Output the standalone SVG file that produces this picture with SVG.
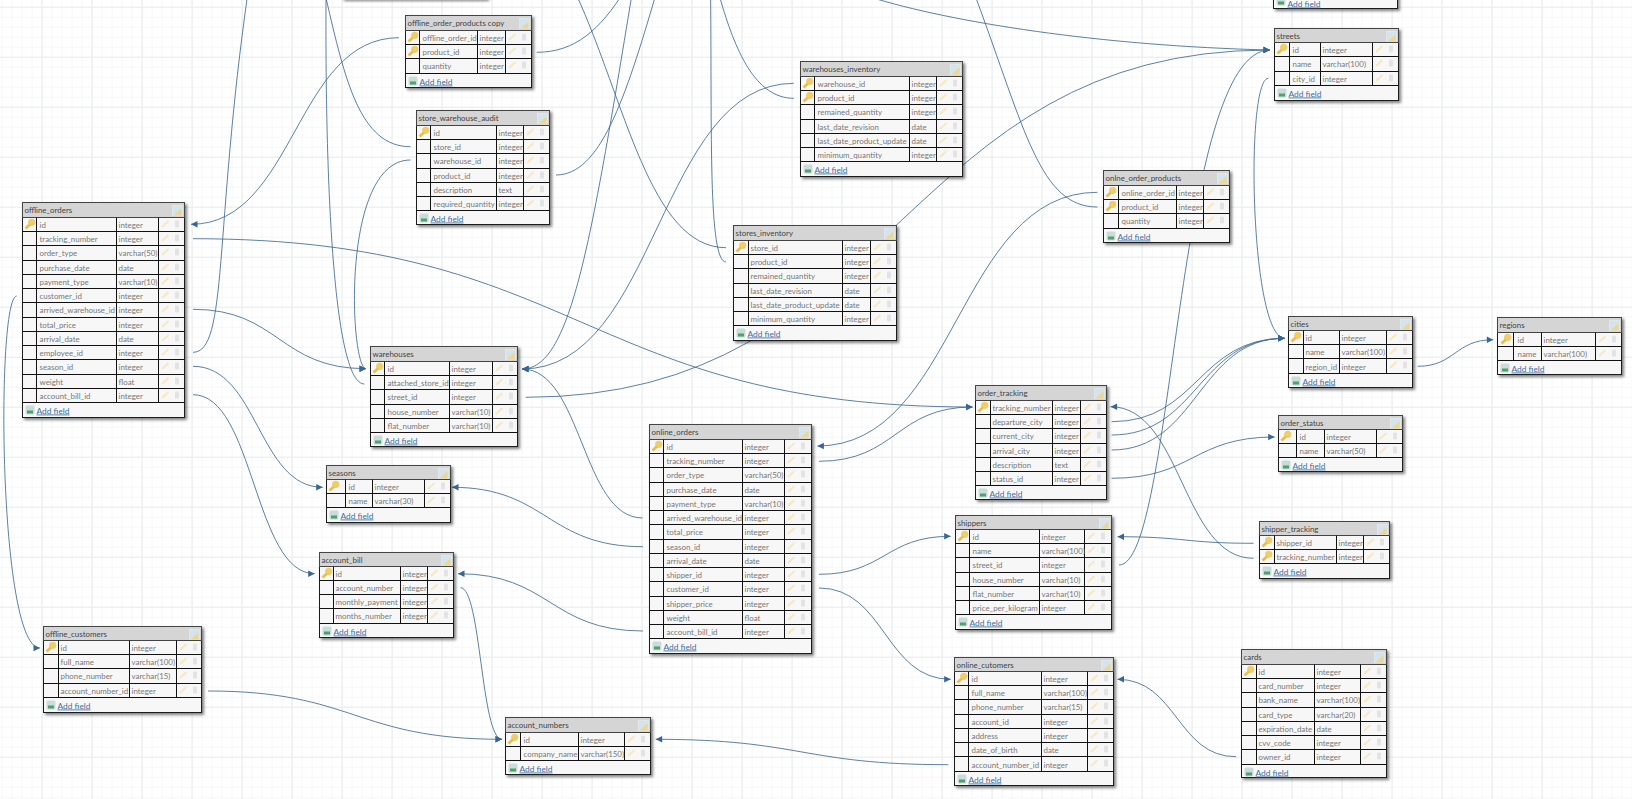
<svg xmlns="http://www.w3.org/2000/svg" width="1632" height="799" viewBox="0 0 1632 799">
<style>
text{font-family:Lato,"Noto Sans","Liberation Sans",sans-serif;font-size:7.9px}
.b{fill:#f7f7f7;stroke:#1a1a1a;stroke-width:1;filter:url(#s)}
.hd{fill:#d5d5d5;stroke:#444;stroke-width:1}
.l{fill:none;stroke:#111;stroke-width:1}
.ti{fill:#444}
.n,.t{fill:#777}
.a{fill:#3f6d9f;text-decoration:underline;font-size:8.4px}
.c{fill:none;stroke:#3f6a92;stroke-width:.85}
.c.e{marker-end:url(#ar)}
</style>
<defs>
<pattern id="g1" width="10" height="10" patternUnits="userSpaceOnUse" x="1.6" y="6.7"><path d="M0 .5H10M.5 0V10" fill="none" stroke="#f6f7f7" stroke-width="1"/></pattern>
<pattern id="g2" width="50" height="50" patternUnits="userSpaceOnUse" x="41.6" y="6.7"><path d="M0 .5H50M.5 0V50" fill="none" stroke="#eaeced" stroke-width="1"/></pattern>
<filter id="s" x="-10%" y="-10%" width="125%" height="125%"><feDropShadow dx="2" dy="2" stdDeviation="1.8" flood-color="#000" flood-opacity=".5"/></filter>
<marker id="ar" markerUnits="userSpaceOnUse" markerWidth="8" markerHeight="8" refX="7" refY="4" orient="auto"><path d="M0.5 .8L7 4L.5 7.2z" fill="#376596"/></marker>
<g id="k"><circle cx="9.2" cy="4.8" r="3.6" fill="#f0cd68"/><path d="M7.4 7L3 11" stroke="#e8bf4e" stroke-width="2.8" fill="none"/></g>
<g id="i"><path d="M3.5 9.5L10 3.5" stroke="#f7e8bd" stroke-width="2" fill="none"/><rect x="16.5" y="3" width="4" height="7" rx="1.2" fill="#e3e3e3"/></g>
<g id="h"><rect width="10" height="10" fill="#d5e3ec" stroke="#e8eef2" stroke-width=".6"/><path d="M1 10L9 3V10z" fill="#eed68e"/></g>
<g id="p"><rect width="9" height="9" rx="1.5" fill="#c9dcdb"/><rect x="1.5" y="5" width="6" height="3" fill="#4ea26b"/></g>
</defs>
<rect width="1632" height="799" fill="#fff"/>
<rect width="1632" height="799" fill="url(#g1)"/>
<rect width="1632" height="799" fill="url(#g2)"/>

<g id="connectors">
<path class="c e" d="M399 37.7C295 37.7 295 224.3 191 224.3"/>
<path class="c e" d="M193 238.7C583 238.7 583 407 972.5 407"/>
<path class="c e" d="M16.7 296C-4 296-2 648 40 648"/>
<path class="c e" d="M193 309.3C279 309.3 279 368.7 366 368.7"/>
<path class="c" d="M193 352.3C228 352.3 214 230 248 -8"/>
<path class="c e" d="M193 366.3C258 366.3 258 487.3 322.7 487.3"/>
<path class="c e" d="M193 394.7C254 394.7 254 573.7 314.7 573.7"/>
<path class="c e" d="M642.5 518C582 518 582 369 522 369"/>
<path class="c e" d="M793.8 83.3C658 83.3 658 369 522 369"/>
<path class="c e" d="M632 -6C590 250 570 369 522 369"/>
<path class="c" d="M556 175C600 175 625 100 656 -6"/>
<path class="c" d="M576 -6C625 100 650 247.7 726 247.7"/>
<path class="c" d="M536.7 52.3C575 52.3 600 30 625 -10"/>
<path class="c" d="M410.5 146.7C360 146.7 345 80 326 -2"/>
<path class="c" d="M364.4 384C335 384 325 200 326 -2"/>
<path class="c e" d="M410.5 160C340 160 350 368.7 366 368.7"/>
<path class="c e" d="M525.7 397.3C898 397.3 898 50 1270 50"/>
<path class="c e" d="M870 -3C950 22 1100 46 1270 50"/>
<path class="c e" d="M1119 565C1175 565 1175 50 1270 50"/>
<path class="c e" d="M1268.4 78.3C1245 78.3 1250 338.3 1284.7 338.3"/>
<path class="c e" d="M1111.6 421.7C1198 421.7 1198 338.3 1284.7 338.3"/>
<path class="c e" d="M1111.6 435C1198 435 1198 338.3 1284.7 338.3"/>
<path class="c e" d="M1111.6 450C1198 450 1198 338.3 1284.7 338.3"/>
<path class="c e" d="M1111.6 478.3C1193 478.3 1193 437 1274.7 437"/>
<path class="c e" d="M1417.7 366.3C1455 366.3 1455 339.7 1493.3 339.7"/>
<path class="c e" d="M1253.5 558.3C1182 558.3 1182 406.7 1110.6 406.7"/>
<path class="c e" d="M1253.5 543.3C1185 543.3 1185 536.7 1117.5 536.7"/>
<path class="c e" d="M1097.4 192.3C957 192.3 957 446 817.4 446"/>
<path class="c e" d="M819 461.3C896 461.3 896 407 972.5 407"/>
<path class="c" d="M1097.4 207C1040 207 1025 130 976 -2"/>
<path class="c" d="M793.8 98.3C755 98.3 735 50 720 -2"/>
<path class="c" d="M726 262C708 262 712 130 710.6 -2"/>
<path class="c e" d="M642.9 546.7C547 546.7 547 487.3 452 487.3"/>
<path class="c e" d="M642.9 631C550 631 550 573.7 458 573.7"/>
<path class="c e" d="M460.5 587.7C481 587.7 481 739.3 502 739.3"/>
<path class="c e" d="M208 691C355 691 355 739.3 502 739.3"/>
<path class="c e" d="M948.3 764.7C802 764.7 802 739.3 655.7 739.3"/>
<path class="c e" d="M819 574.3C885 574.3 885 536.3 950.7 536.3"/>
<path class="c e" d="M819 588C885 588 885 679.3 950.7 679.3"/>
<path class="c e" d="M1236 756.7C1177 756.7 1177 679.3 1117.5 679.3"/>
</g>

<g id="top_table_a" transform="translate(342.5 -30.5)"><rect class="b" width="144" height="29"/></g>
<g id="top_table_b" transform="translate(1273.5 -40.5)"><rect class="b" width="124" height="49"/><use href="#p" x="3" y="37"/><text class="a" x="14" y="47">Add field</text></g>

<g id="offline_orders" transform="translate(22.5 202.5)"><rect class="b" width="162" height="215"/><rect class="hd" width="162" height="15"/><text class="ti" x="2" y="10.5">offline_orders</text><use href="#h" x="150" y="3"/>
<path class="l" d="M0 29H162M0 43H162M0 58H162M0 72H162M0 86H162M0 100H162M0 115H162M0 129H162M0 143H162M0 157H162M0 172H162M0 186H162M0 200H162M14 15V200M94 15V200M136 15V200"/><use href="#k" x="0" y="15"/>
<text class="n" x="17" y="25">id</text><text class="t" x="96" y="25">integer</text><use href="#i" x="136" y="15"/>
<text class="n" x="17" y="39">tracking_number</text><text class="t" x="96" y="39">integer</text><use href="#i" x="136" y="29"/>
<text class="n" x="17" y="53">order_type</text><text class="t" x="96" y="53">varchar(50)</text><use href="#i" x="136" y="43"/>
<text class="n" x="17" y="68">purchase_date</text><text class="t" x="96" y="68">date</text><use href="#i" x="136" y="58"/>
<text class="n" x="17" y="82">payment_type</text><text class="t" x="96" y="82">varchar(10)</text><use href="#i" x="136" y="72"/>
<text class="n" x="17" y="96">customer_id</text><text class="t" x="96" y="96">integer</text><use href="#i" x="136" y="86"/>
<text class="n" x="17" y="110">arrived_warehouse_id</text><text class="t" x="96" y="110">integer</text><use href="#i" x="136" y="100"/>
<text class="n" x="17" y="125">total_price</text><text class="t" x="96" y="125">integer</text><use href="#i" x="136" y="115"/>
<text class="n" x="17" y="139">arrival_date</text><text class="t" x="96" y="139">date</text><use href="#i" x="136" y="129"/>
<text class="n" x="17" y="153">employee_id</text><text class="t" x="96" y="153">integer</text><use href="#i" x="136" y="143"/>
<text class="n" x="17" y="167">season_id</text><text class="t" x="96" y="167">integer</text><use href="#i" x="136" y="157"/>
<text class="n" x="17" y="182">weight</text><text class="t" x="96" y="182">float</text><use href="#i" x="136" y="172"/>
<text class="n" x="17" y="196">account_bill_id</text><text class="t" x="96" y="196">integer</text><use href="#i" x="136" y="186"/>
<use href="#p" x="3" y="203"/><text class="a" x="14" y="211">Add field</text></g>

<g id="offline_order_products_copy" transform="translate(405.5 15.5)"><rect class="b" width="126" height="72"/><rect class="hd" width="126" height="15"/><text class="ti" x="2" y="10.5">offline_order_products copy</text><use href="#h" x="114" y="3"/>
<path class="l" d="M0 29H126M0 43H126M0 58H126M14 15V58M72 15V58M100 15V58"/><use href="#k" x="0" y="15"/><use href="#k" x="0" y="29"/>
<text class="n" x="17" y="25">offline_order_id</text><text class="t" x="74" y="25">integer</text><use href="#i" x="100" y="15"/>
<text class="n" x="17" y="39">product_id</text><text class="t" x="74" y="39">integer</text><use href="#i" x="100" y="29"/>
<text class="n" x="17" y="53">quantity</text><text class="t" x="74" y="53">integer</text><use href="#i" x="100" y="43"/>
<use href="#p" x="3" y="61"/><text class="a" x="14" y="69">Add field</text></g>

<g id="store_warehouse_audit" transform="translate(416.5 110.5)"><rect class="b" width="133" height="114"/><rect class="hd" width="133" height="15"/><text class="ti" x="2" y="10.5">store_warehouse_audit</text><use href="#h" x="121" y="3"/>
<path class="l" d="M0 29H133M0 43H133M0 58H133M0 72H133M0 86H133M0 100H133M14 15V100M80 15V100M107 15V100"/><use href="#k" x="0" y="15"/>
<text class="n" x="17" y="25">id</text><text class="t" x="82" y="25">integer</text><use href="#i" x="107" y="15"/>
<text class="n" x="17" y="39">store_id</text><text class="t" x="82" y="39">integer</text><use href="#i" x="107" y="29"/>
<text class="n" x="17" y="53">warehouse_id</text><text class="t" x="82" y="53">integer</text><use href="#i" x="107" y="43"/>
<text class="n" x="17" y="68">product_id</text><text class="t" x="82" y="68">integer</text><use href="#i" x="107" y="58"/>
<text class="n" x="17" y="82">description</text><text class="t" x="82" y="82">text</text><use href="#i" x="107" y="72"/>
<text class="n" x="17" y="96">required_quantity</text><text class="t" x="82" y="96">integer</text><use href="#i" x="107" y="86"/>
<use href="#p" x="3" y="103"/><text class="a" x="14" y="111">Add field</text></g>

<g id="warehouses_inventory" transform="translate(800.5 61.5)"><rect class="b" width="162" height="115"/><rect class="hd" width="162" height="15"/><text class="ti" x="2" y="10.5">warehouses_inventory</text><use href="#h" x="150" y="3"/>
<path class="l" d="M0 29H162M0 43H162M0 58H162M0 72H162M0 86H162M0 100H162M14 15V100M109 15V100M136 15V100"/><use href="#k" x="0" y="15"/><use href="#k" x="0" y="29"/>
<text class="n" x="17" y="25">warehouse_id</text><text class="t" x="111" y="25">integer</text><use href="#i" x="136" y="15"/>
<text class="n" x="17" y="39">product_id</text><text class="t" x="111" y="39">integer</text><use href="#i" x="136" y="29"/>
<text class="n" x="17" y="53">remained_quantity</text><text class="t" x="111" y="53">integer</text><use href="#i" x="136" y="43"/>
<text class="n" x="17" y="68">last_date_revision</text><text class="t" x="111" y="68">date</text><use href="#i" x="136" y="58"/>
<text class="n" x="17" y="82">last_date_product_update</text><text class="t" x="111" y="82">date</text><use href="#i" x="136" y="72"/>
<text class="n" x="17" y="96">minimum_quantity</text><text class="t" x="111" y="96">integer</text><use href="#i" x="136" y="86"/>
<use href="#p" x="3" y="103"/><text class="a" x="14" y="111">Add field</text></g>

<g id="stores_inventory" transform="translate(733.5 225.5)"><rect class="b" width="163" height="115"/><rect class="hd" width="163" height="15"/><text class="ti" x="2" y="10.5">stores_inventory</text><use href="#h" x="151" y="3"/>
<path class="l" d="M0 29H163M0 43H163M0 58H163M0 72H163M0 86H163M0 100H163M15 15V100M109 15V100M137 15V100"/><use href="#k" x="0" y="15"/>
<text class="n" x="17" y="25">store_id</text><text class="t" x="111" y="25">integer</text><use href="#i" x="137" y="15"/>
<text class="n" x="17" y="39">product_id</text><text class="t" x="111" y="39">integer</text><use href="#i" x="137" y="29"/>
<text class="n" x="17" y="53">remained_quantity</text><text class="t" x="111" y="53">integer</text><use href="#i" x="137" y="43"/>
<text class="n" x="17" y="68">last_date_revision</text><text class="t" x="111" y="68">date</text><use href="#i" x="137" y="58"/>
<text class="n" x="17" y="82">last_date_product_update</text><text class="t" x="111" y="82">date</text><use href="#i" x="137" y="72"/>
<text class="n" x="17" y="96">minimum_quantity</text><text class="t" x="111" y="96">integer</text><use href="#i" x="137" y="86"/>
<use href="#p" x="3" y="103"/><text class="a" x="14" y="111">Add field</text></g>

<g id="streets" transform="translate(1274.5 28.5)"><rect class="b" width="124" height="72"/><rect class="hd" width="124" height="14"/><text class="ti" x="2" y="10">streets</text><use href="#h" x="112" y="3"/>
<path class="l" d="M0 28H124M0 43H124M0 57H124M15 14V57M46 14V57M98 14V57"/><use href="#k" x="0" y="14"/>
<text class="n" x="18" y="24">id</text><text class="t" x="48" y="24">integer</text><use href="#i" x="98" y="14"/>
<text class="n" x="18" y="38">name</text><text class="t" x="48" y="38">varchar(100)</text><use href="#i" x="98" y="28"/>
<text class="n" x="18" y="53">city_id</text><text class="t" x="48" y="53">integer</text><use href="#i" x="98" y="43"/>
<use href="#p" x="3" y="60"/><text class="a" x="14" y="68">Add field</text></g>

<g id="online_order_products" transform="translate(1103.5 170.5)"><rect class="b" width="126" height="72"/><rect class="hd" width="126" height="15"/><text class="ti" x="2" y="10.5">onlne_order_products</text><use href="#h" x="114" y="3"/>
<path class="l" d="M0 29H126M0 43H126M0 58H126M15 15V58M73 15V58M100 15V58"/><use href="#k" x="0" y="15"/><use href="#k" x="0" y="29"/>
<text class="n" x="18" y="25">online_order_id</text><text class="t" x="75" y="25">integer</text><use href="#i" x="100" y="15"/>
<text class="n" x="18" y="39">product_id</text><text class="t" x="75" y="39">integer</text><use href="#i" x="100" y="29"/>
<text class="n" x="18" y="53">quantity</text><text class="t" x="75" y="53">integer</text><use href="#i" x="100" y="43"/>
<use href="#p" x="3" y="61"/><text class="a" x="14" y="69">Add field</text></g>

<g id="warehouses" transform="translate(370.5 346.5)"><rect class="b" width="147" height="100"/><rect class="hd" width="147" height="15"/><text class="ti" x="2" y="10.5">warehouses</text><use href="#h" x="135" y="3"/>
<path class="l" d="M0 29H147M0 43H147M0 58H147M0 72H147M0 86H147M14 15V86M79 15V86M122 15V86"/><use href="#k" x="0" y="15"/>
<text class="n" x="17" y="25">id</text><text class="t" x="81" y="25">integer</text><use href="#i" x="122" y="15"/>
<text class="n" x="17" y="39">attached_store_id</text><text class="t" x="81" y="39">integer</text><use href="#i" x="122" y="29"/>
<text class="n" x="17" y="53">street_id</text><text class="t" x="81" y="53">integer</text><use href="#i" x="122" y="43"/>
<text class="n" x="17" y="68">house_number</text><text class="t" x="81" y="68">varchar(10)</text><use href="#i" x="122" y="58"/>
<text class="n" x="17" y="82">flat_number</text><text class="t" x="81" y="82">varchar(10)</text><use href="#i" x="122" y="72"/>
<use href="#p" x="3" y="89"/><text class="a" x="14" y="97">Add field</text></g>

<g id="seasons" transform="translate(326.5 465.5)"><rect class="b" width="124" height="57"/><rect class="hd" width="124" height="14"/><text class="ti" x="2" y="10">seasons</text><use href="#h" x="112" y="3"/>
<path class="l" d="M0 28H124M0 42H124M19 14V42M46 14V42M98 14V42"/><use href="#k" x="0" y="14"/>
<text class="n" x="22" y="24">id</text><text class="t" x="48" y="24">integer</text><use href="#i" x="98" y="14"/>
<text class="n" x="22" y="38">name</text><text class="t" x="48" y="38">varchar(30)</text><use href="#i" x="98" y="28"/>
<use href="#p" x="3" y="45"/><text class="a" x="14" y="53">Add field</text></g>

<g id="online_orders" transform="translate(649.5 424.5)"><rect class="b" width="162" height="229"/><rect class="hd" width="162" height="15"/><text class="ti" x="2" y="10.5">online_orders</text><use href="#h" x="150" y="3"/>
<path class="l" d="M0 29H162M0 43H162M0 58H162M0 72H162M0 86H162M0 100H162M0 115H162M0 129H162M0 143H162M0 157H162M0 172H162M0 186H162M0 200H162M0 214H162M14 15V214M93 15V214M135 15V214"/><use href="#k" x="0" y="15"/>
<text class="n" x="17" y="25">id</text><text class="t" x="95" y="25">integer</text><use href="#i" x="135" y="15"/>
<text class="n" x="17" y="39">tracking_number</text><text class="t" x="95" y="39">integer</text><use href="#i" x="135" y="29"/>
<text class="n" x="17" y="53">order_type</text><text class="t" x="95" y="53">varchar(50)</text><use href="#i" x="135" y="43"/>
<text class="n" x="17" y="68">purchase_date</text><text class="t" x="95" y="68">date</text><use href="#i" x="135" y="58"/>
<text class="n" x="17" y="82">payment_type</text><text class="t" x="95" y="82">varchar(10)</text><use href="#i" x="135" y="72"/>
<text class="n" x="17" y="96">arrived_warehouse_id</text><text class="t" x="95" y="96">integer</text><use href="#i" x="135" y="86"/>
<text class="n" x="17" y="110">total_price</text><text class="t" x="95" y="110">integer</text><use href="#i" x="135" y="100"/>
<text class="n" x="17" y="125">season_id</text><text class="t" x="95" y="125">integer</text><use href="#i" x="135" y="115"/>
<text class="n" x="17" y="139">arrival_date</text><text class="t" x="95" y="139">date</text><use href="#i" x="135" y="129"/>
<text class="n" x="17" y="153">shipper_id</text><text class="t" x="95" y="153">integer</text><use href="#i" x="135" y="143"/>
<text class="n" x="17" y="167">customer_id</text><text class="t" x="95" y="167">integer</text><use href="#i" x="135" y="157"/>
<text class="n" x="17" y="182">shipper_price</text><text class="t" x="95" y="182">integer</text><use href="#i" x="135" y="172"/>
<text class="n" x="17" y="196">weight</text><text class="t" x="95" y="196">float</text><use href="#i" x="135" y="186"/>
<text class="n" x="17" y="210">account_bill_id</text><text class="t" x="95" y="210">integer</text><use href="#i" x="135" y="200"/>
<use href="#p" x="3" y="217"/><text class="a" x="14" y="225">Add field</text></g>

<g id="order_tracking" transform="translate(975.5 385.5)"><rect class="b" width="131" height="114"/><rect class="hd" width="131" height="15"/><text class="ti" x="2" y="10.5">order_tracking</text><use href="#h" x="119" y="3"/>
<path class="l" d="M0 29H131M0 43H131M0 58H131M0 72H131M0 86H131M0 100H131M15 15V100M77 15V100M105 15V100"/><use href="#k" x="0" y="15"/>
<text class="n" x="17" y="25">tracking_number</text><text class="t" x="79" y="25">integer</text><use href="#i" x="105" y="15"/>
<text class="n" x="17" y="39">departure_city</text><text class="t" x="79" y="39">integer</text><use href="#i" x="105" y="29"/>
<text class="n" x="17" y="53">current_city</text><text class="t" x="79" y="53">integer</text><use href="#i" x="105" y="43"/>
<text class="n" x="17" y="68">arrival_city</text><text class="t" x="79" y="68">integer</text><use href="#i" x="105" y="58"/>
<text class="n" x="17" y="82">description</text><text class="t" x="79" y="82">text</text><use href="#i" x="105" y="72"/>
<text class="n" x="17" y="96">status_id</text><text class="t" x="79" y="96">integer</text><use href="#i" x="105" y="86"/>
<use href="#p" x="3" y="103"/><text class="a" x="14" y="111">Add field</text></g>

<g id="shippers" transform="translate(955.5 515.5)"><rect class="b" width="156" height="114"/><rect class="hd" width="156" height="14"/><text class="ti" x="2" y="10">shippers</text><use href="#h" x="144" y="3"/>
<path class="l" d="M0 28H156M0 42H156M0 57H156M0 71H156M0 85H156M0 99H156M14 14V99M84 14V99M129 14V99"/><use href="#k" x="0" y="14"/>
<text class="n" x="17" y="24">id</text><text class="t" x="86" y="24">integer</text><use href="#i" x="129" y="14"/>
<text class="n" x="17" y="38">name</text><text class="t" x="86" y="38">varchar(100)</text><use href="#i" x="129" y="28"/>
<text class="n" x="17" y="52">street_id</text><text class="t" x="86" y="52">integer</text><use href="#i" x="129" y="42"/>
<text class="n" x="17" y="67">house_number</text><text class="t" x="86" y="67">varchar(10)</text><use href="#i" x="129" y="57"/>
<text class="n" x="17" y="81">flat_number</text><text class="t" x="86" y="81">varchar(10)</text><use href="#i" x="129" y="71"/>
<text class="n" x="17" y="95">price_per_kilogram</text><text class="t" x="86" y="95">integer</text><use href="#i" x="129" y="85"/>
<use href="#p" x="3" y="102"/><text class="a" x="14" y="110">Add field</text></g>

<g id="cities" transform="translate(1288.5 316.5)"><rect class="b" width="124" height="71"/><rect class="hd" width="124" height="14"/><text class="ti" x="2" y="10">cities</text><use href="#h" x="112" y="3"/>
<path class="l" d="M0 28H124M0 42H124M0 57H124M15 14V57M51 14V57M98 14V57"/><use href="#k" x="0" y="14"/>
<text class="n" x="17" y="24">id</text><text class="t" x="53" y="24">integer</text><use href="#i" x="98" y="14"/>
<text class="n" x="17" y="38">name</text><text class="t" x="53" y="38">varchar(100)</text><use href="#i" x="98" y="28"/>
<text class="n" x="17" y="53">region_id</text><text class="t" x="53" y="53">integer</text><use href="#i" x="98" y="42"/>
<use href="#p" x="3" y="60"/><text class="a" x="14" y="68">Add field</text></g>

<g id="regions" transform="translate(1497.5 317.5)"><rect class="b" width="124" height="57"/><rect class="hd" width="124" height="15"/><text class="ti" x="2" y="10.5">regions</text><use href="#h" x="112" y="3"/>
<path class="l" d="M0 29H124M0 43H124M16 15V43M44 15V43M98 15V43"/><use href="#k" x="1" y="15"/>
<text class="n" x="20" y="25">id</text><text class="t" x="46" y="25">integer</text><use href="#i" x="98" y="15"/>
<text class="n" x="20" y="39">name</text><text class="t" x="46" y="39">varchar(100)</text><use href="#i" x="98" y="29"/>
<use href="#p" x="3" y="46"/><text class="a" x="14" y="54">Add field</text></g>

<g id="order_status" transform="translate(1278.5 415.5)"><rect class="b" width="124" height="56"/><rect class="hd" width="124" height="14"/><text class="ti" x="2" y="10">order_status</text><use href="#h" x="112" y="3"/>
<path class="l" d="M0 28H124M0 42H124M18 14V42M46 14V42M98 14V42"/><use href="#k" x="0" y="14"/>
<text class="n" x="21" y="24">id</text><text class="t" x="48" y="24">integer</text><use href="#i" x="98" y="14"/>
<text class="n" x="21" y="38">name</text><text class="t" x="48" y="38">varchar(50)</text><use href="#i" x="98" y="28"/>
<use href="#p" x="3" y="45"/><text class="a" x="14" y="53">Add field</text></g>

<g id="shipper_tracking" transform="translate(1259.5 521.5)"><rect class="b" width="130" height="57"/><rect class="hd" width="130" height="14"/><text class="ti" x="2" y="10">shipper_tracking</text><use href="#h" x="118" y="3"/>
<path class="l" d="M0 28H130M0 42H130M15 14V42M77 14V42M104 14V42"/><use href="#k" x="0" y="14"/><use href="#k" x="0" y="28"/>
<text class="n" x="17" y="24">shipper_id</text><text class="t" x="79" y="24">integer</text><use href="#i" x="104" y="14"/>
<text class="n" x="17" y="38">tracking_number</text><text class="t" x="79" y="38">integer</text><use href="#i" x="104" y="28"/>
<use href="#p" x="3" y="45"/><text class="a" x="14" y="53">Add field</text></g>

<g id="cards" transform="translate(1241.5 649.5)"><rect class="b" width="145" height="128"/><rect class="hd" width="145" height="15"/><text class="ti" x="2" y="10.5">cards</text><use href="#h" x="133" y="3"/>
<path class="l" d="M0 29H145M0 43H145M0 58H145M0 72H145M0 86H145M0 100H145M0 115H145M15 15V115M73 15V115M119 15V115"/><use href="#k" x="0" y="15"/>
<text class="n" x="17" y="25">id</text><text class="t" x="75" y="25">integer</text><use href="#i" x="119" y="15"/>
<text class="n" x="17" y="39">card_number</text><text class="t" x="75" y="39">integer</text><use href="#i" x="119" y="29"/>
<text class="n" x="17" y="53">bank_name</text><text class="t" x="75" y="53">varchar(100)</text><use href="#i" x="119" y="43"/>
<text class="n" x="17" y="68">card_type</text><text class="t" x="75" y="68">varchar(20)</text><use href="#i" x="119" y="58"/>
<text class="n" x="17" y="82">expiration_date</text><text class="t" x="75" y="82">date</text><use href="#i" x="119" y="72"/>
<text class="n" x="17" y="96">cvv_code</text><text class="t" x="75" y="96">integer</text><use href="#i" x="119" y="86"/>
<text class="n" x="17" y="110">owner_id</text><text class="t" x="75" y="110">integer</text><use href="#i" x="119" y="100"/>
<use href="#p" x="3" y="118"/><text class="a" x="14" y="126">Add field</text></g>

<g id="online_cutomers" transform="translate(954.5 657.5)"><rect class="b" width="159" height="128"/><rect class="hd" width="159" height="14"/><text class="ti" x="2" y="10">online_cutomers</text><use href="#h" x="147" y="3"/>
<path class="l" d="M0 28H159M0 42H159M0 57H159M0 71H159M0 85H159M0 99H159M0 114H159M14 14V114M87 14V114M133 14V114"/><use href="#k" x="0" y="14"/>
<text class="n" x="17" y="24">id</text><text class="t" x="89" y="24">integer</text><use href="#i" x="133" y="14"/>
<text class="n" x="17" y="38">full_name</text><text class="t" x="89" y="38">varchar(100)</text><use href="#i" x="133" y="28"/>
<text class="n" x="17" y="52">phone_number</text><text class="t" x="89" y="52">varchar(15)</text><use href="#i" x="133" y="42"/>
<text class="n" x="17" y="67">account_id</text><text class="t" x="89" y="67">integer</text><use href="#i" x="133" y="57"/>
<text class="n" x="17" y="81">address</text><text class="t" x="89" y="81">integer</text><use href="#i" x="133" y="71"/>
<text class="n" x="17" y="95">date_of_birth</text><text class="t" x="89" y="95">date</text><use href="#i" x="133" y="85"/>
<text class="n" x="17" y="110">account_number_id</text><text class="t" x="89" y="110">integer</text><use href="#i" x="133" y="99"/>
<use href="#p" x="3" y="117"/><text class="a" x="14" y="125">Add field</text></g>

<g id="offline_customers" transform="translate(43.5 626.5)"><rect class="b" width="158" height="86"/><rect class="hd" width="158" height="14"/><text class="ti" x="2" y="10">offline_customers</text><use href="#h" x="146" y="3"/>
<path class="l" d="M0 28H158M0 42H158M0 57H158M0 71H158M15 14V71M86 14V71M133 14V71"/><use href="#k" x="0" y="14"/>
<text class="n" x="17" y="24">id</text><text class="t" x="88" y="24">integer</text><use href="#i" x="133" y="14"/>
<text class="n" x="17" y="38">full_name</text><text class="t" x="88" y="38">varchar(100)</text><use href="#i" x="133" y="28"/>
<text class="n" x="17" y="52">phone_number</text><text class="t" x="88" y="52">varchar(15)</text><use href="#i" x="133" y="42"/>
<text class="n" x="17" y="67">account_number_id</text><text class="t" x="88" y="67">integer</text><use href="#i" x="133" y="57"/>
<use href="#p" x="3" y="74"/><text class="a" x="14" y="82">Add field</text></g>

<g id="account_bill" transform="translate(319.5 552.5)"><rect class="b" width="134" height="85"/><rect class="hd" width="134" height="14"/><text class="ti" x="2" y="10">account_bill</text><use href="#h" x="122" y="3"/>
<path class="l" d="M0 28H134M0 42H134M0 56H134M0 71H134M14 14V71M81 14V71M108 14V71"/><use href="#k" x="0" y="14"/>
<text class="n" x="16" y="24">id</text><text class="t" x="83" y="24">integer</text><use href="#i" x="108" y="14"/>
<text class="n" x="16" y="38">account_number</text><text class="t" x="83" y="38">integer</text><use href="#i" x="108" y="28"/>
<text class="n" x="16" y="52">monthly_payment</text><text class="t" x="83" y="52">integer</text><use href="#i" x="108" y="42"/>
<text class="n" x="16" y="66">months_number</text><text class="t" x="83" y="66">integer</text><use href="#i" x="108" y="56"/>
<use href="#p" x="3" y="74"/><text class="a" x="14" y="82">Add field</text></g>

<g id="account_numbers" transform="translate(505.5 717.5)"><rect class="b" width="145" height="57"/><rect class="hd" width="145" height="15"/><text class="ti" x="2" y="10.5">account_numbers</text><use href="#h" x="133" y="3"/>
<path class="l" d="M0 29H145M0 43H145M15 15V43M73 15V43M119 15V43"/><use href="#k" x="0" y="15"/>
<text class="n" x="18" y="25">id</text><text class="t" x="75" y="25">integer</text><use href="#i" x="119" y="15"/>
<text class="n" x="18" y="39">company_name</text><text class="t" x="75" y="39">varchar(150)</text><use href="#i" x="119" y="29"/>
<use href="#p" x="3" y="46"/><text class="a" x="14" y="54">Add field</text></g>
</svg>
